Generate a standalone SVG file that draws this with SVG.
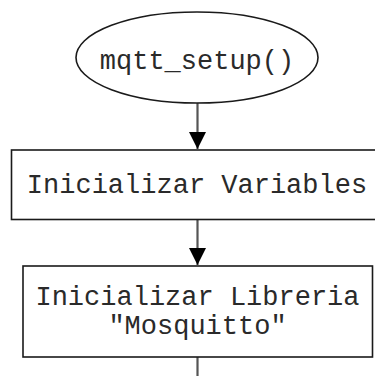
<svg xmlns="http://www.w3.org/2000/svg" width="375" height="376" viewBox="0 0 375 376">
<style>
.shape{fill:#fff;stroke:#1a1a1a;stroke-width:1.6}
.lbl{font-family:"Liberation Mono","Courier New",monospace;font-size:27px;fill:#2a2a2a;text-anchor:middle}
.edge{stroke:#555;stroke-width:2.2;fill:none}
</style>
<defs>
<marker id="arr" markerWidth="18" markerHeight="17" refX="17" refY="8.5" orient="auto" markerUnits="userSpaceOnUse">
<path d="M0,0 L17,8.5 L0,17 Z" fill="#000"/>
</marker>
</defs>
<rect width="375" height="376" fill="#fff"/>
<g id="connectors">
<line class="edge" x1="197.5" y1="103" x2="197.5" y2="149" marker-end="url(#arr)"/>
<line class="edge" x1="197.5" y1="220" x2="197.5" y2="265" marker-end="url(#arr)"/>
<line class="edge" x1="197.5" y1="357" x2="197.5" y2="376"/>
</g>
<g id="start">
<ellipse class="shape" cx="197" cy="57.5" rx="121" ry="45.5"/>
<text class="lbl" x="197" y="69">mqtt_setup()</text>
</g>
<g id="init-vars">
<rect class="shape" x="11.5" y="150" width="372" height="69.5"/>
<text class="lbl" x="197" y="193">Inicializar Variables</text>
</g>
<g id="init-lib">
<rect class="shape" x="23" y="266" width="349.5" height="91"/>
<text class="lbl" x="197.5" y="305">Inicializar Libreria</text>
<text class="lbl" x="197.5" y="334">"Mosquitto"</text>
</g>
</svg>
